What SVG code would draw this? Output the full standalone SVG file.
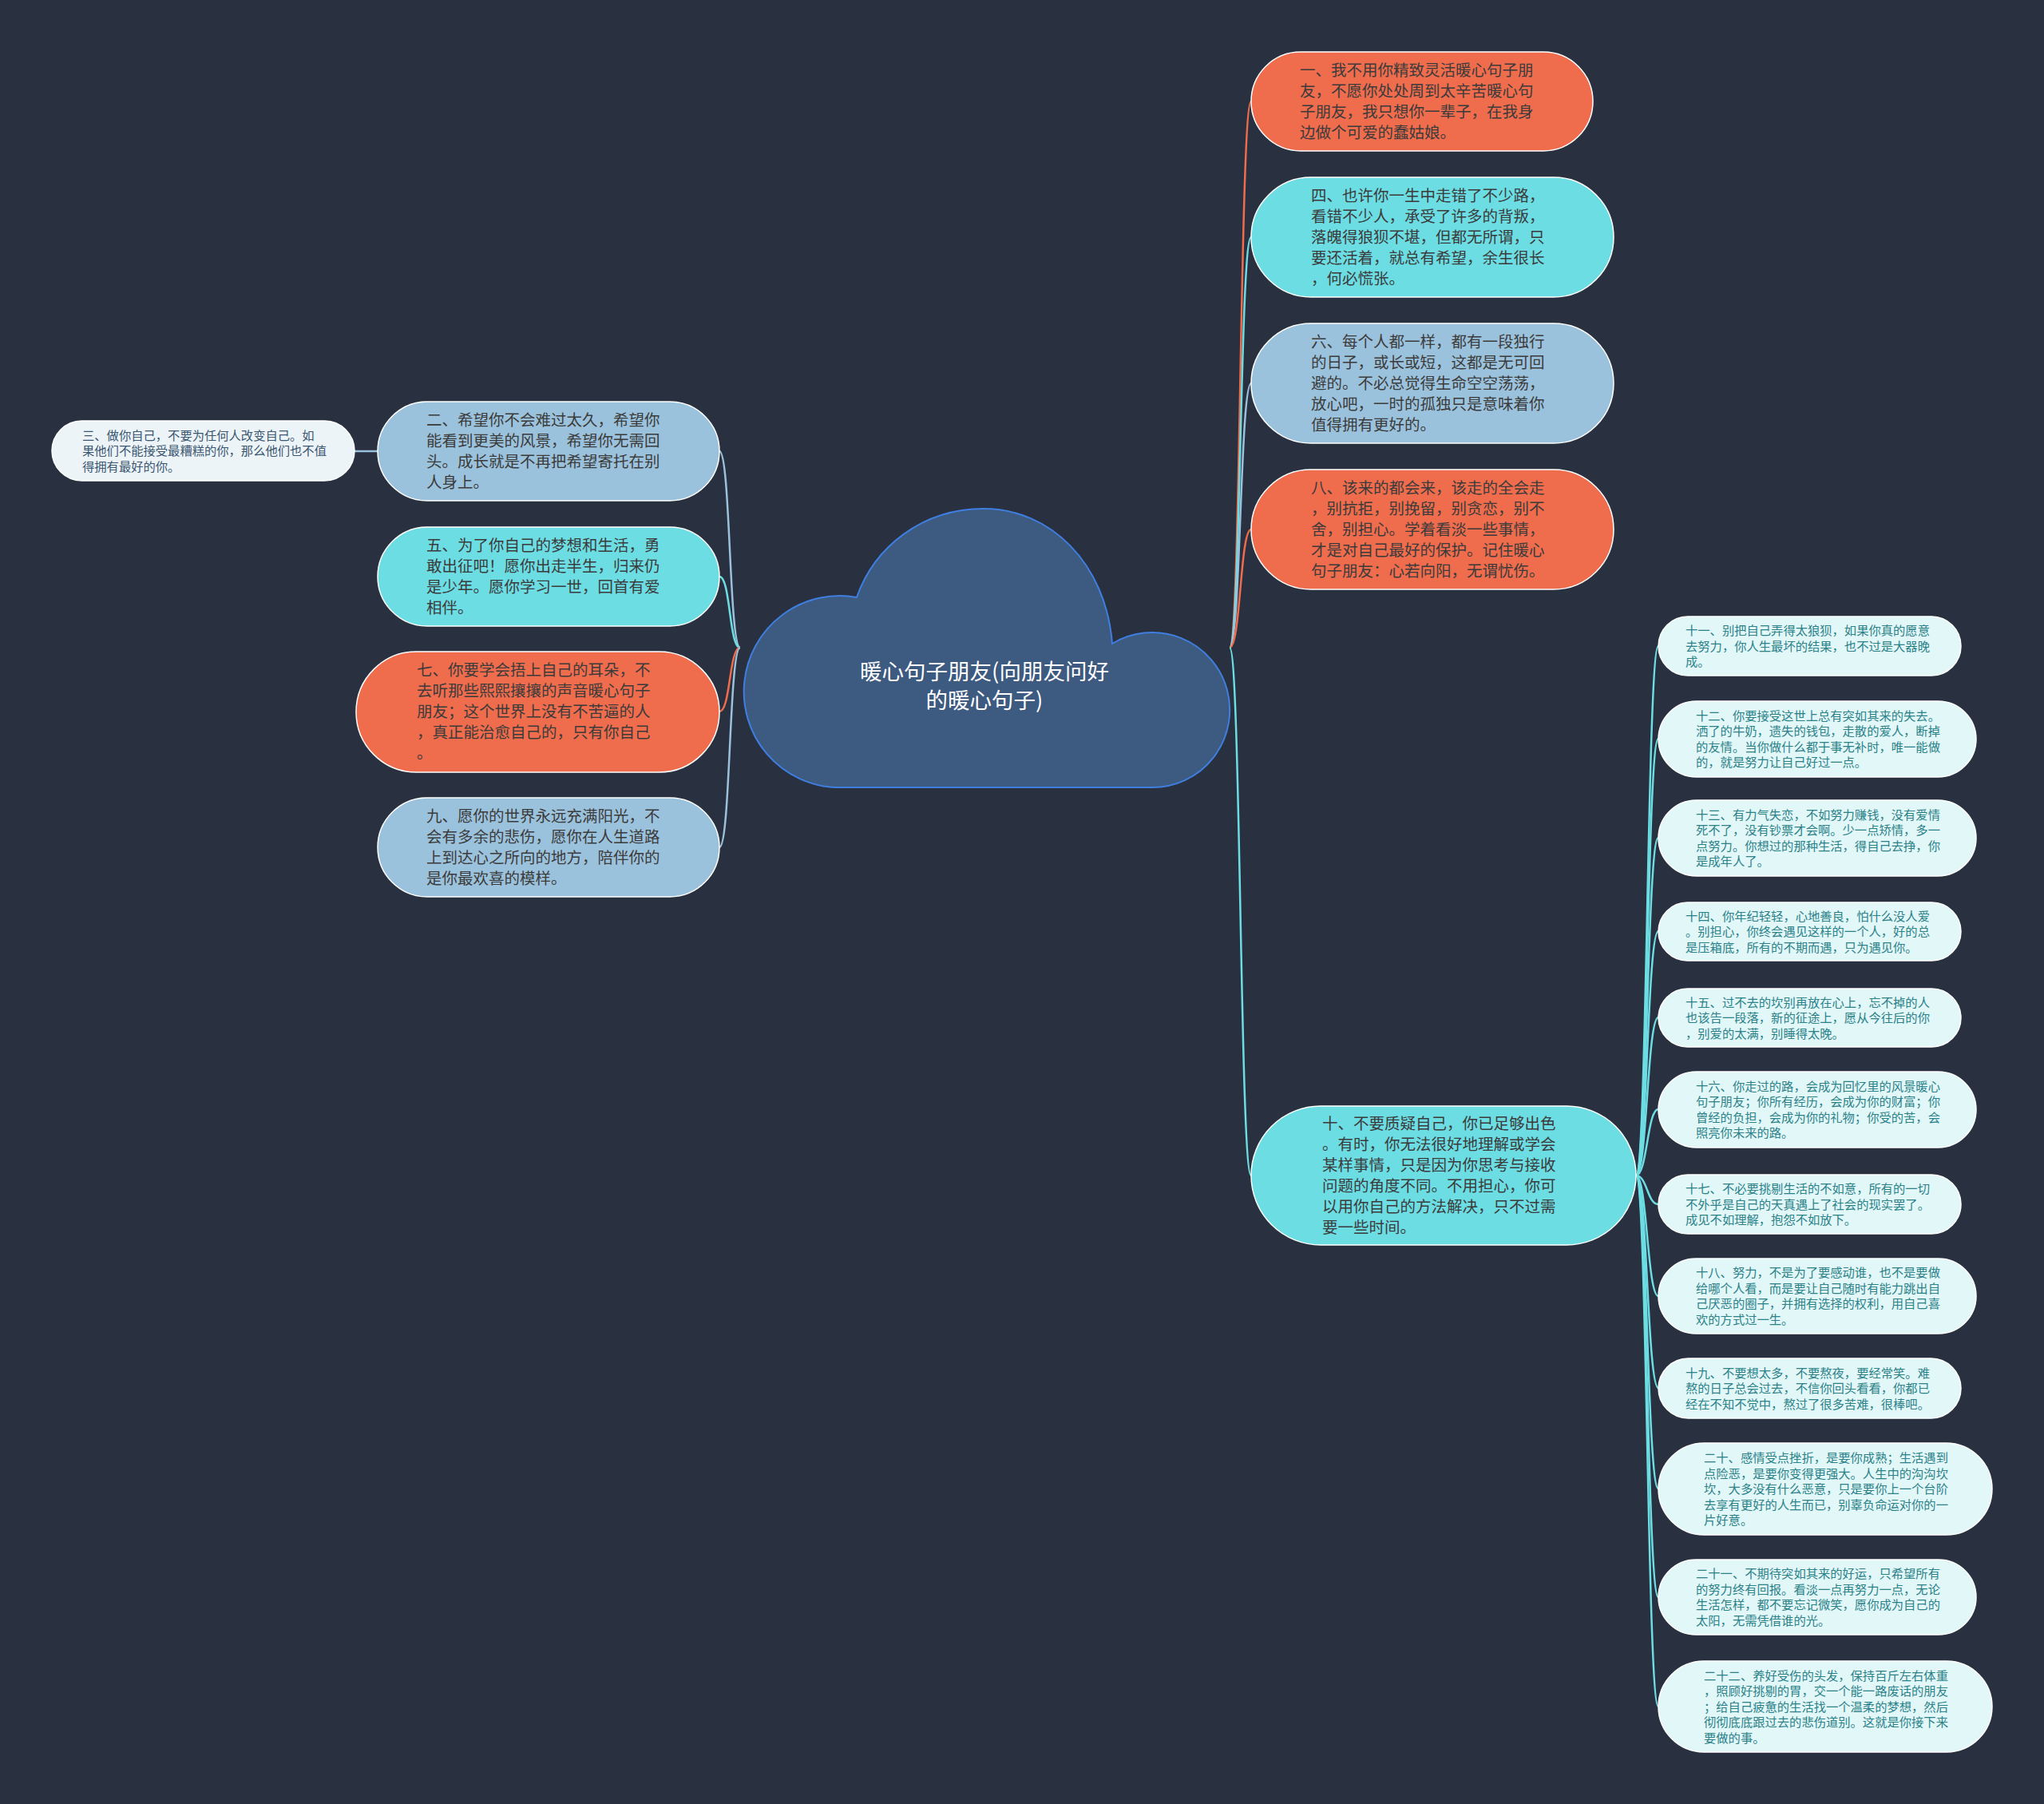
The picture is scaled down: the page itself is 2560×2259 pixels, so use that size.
<svg xmlns="http://www.w3.org/2000/svg" width="2560" height="2259" viewBox="0 0 2560 2259">
<style>
text{font-family:"Noto Sans CJK SC","Noto Sans",sans-serif}
.m{font-size:19.5px;fill:#3b3b3b}
.s{font-size:15.3px;fill:#2b8188}
.t3{font-size:15.3px;fill:#3b5670}
.root{font-size:27.5px;fill:#ffffff;text-anchor:middle}
.or{fill:#ef6c4d;stroke:#ffffff;stroke-width:1.5}
.cy{fill:#6cdde3;stroke:#ffffff;stroke-width:1.5}
.lb{fill:#9bc2dc;stroke:#ffffff;stroke-width:1.5}
.sm{fill:#e1f7f8;stroke:#ffffff;stroke-width:1.5}
.w3{fill:#ecf4f8;stroke:#ffffff;stroke-width:1.5}
.c{fill:none;stroke-width:2.5}
.co{stroke:#ef6c4d}.cc{stroke:#6cdde3}.cl{stroke:#9bc2dc}
</style>
<rect x="0" y="0" width="2560" height="2259" fill="#29303f"/>
<g id="connectors">
<path class="c co" d="M1540 811 C1554 811,1553 127,1567 127"/>
<path class="c cc" d="M1540 811 C1554 811,1553 297,1567 297"/>
<path class="c cl" d="M1540 811 C1554 811,1553 480,1567 480"/>
<path class="c co" d="M1540 811 C1554 811,1553 663,1567 663"/>
<path class="c cc" d="M1540 811 C1554 811,1553 1472,1567 1472"/>
<path class="c cl" d="M927 811 C913 811,915 565,901 565"/>
<path class="c cc" d="M927 811 C913 811,915 722,901 722"/>
<path class="c co" d="M927 811 C913 811,915 891,901 891"/>
<path class="c cl" d="M927 811 C913 811,915 1061,901 1061"/>
<path class="c cl" d="M473 565 L444 565"/>
<path class="c cc" d="M2049 1472 C2063 1472,2063 809,2077 809"/>
<path class="c cc" d="M2049 1472 C2063 1472,2063 925,2077 925"/>
<path class="c cc" d="M2049 1472 C2063 1472,2063 1049,2077 1049"/>
<path class="c cc" d="M2049 1472 C2063 1472,2063 1166,2077 1166"/>
<path class="c cc" d="M2049 1472 C2063 1472,2063 1274,2077 1274"/>
<path class="c cc" d="M2049 1472 C2063 1472,2063 1389,2077 1389"/>
<path class="c cc" d="M2049 1472 C2063 1472,2063 1508,2077 1508"/>
<path class="c cc" d="M2049 1472 C2063 1472,2063 1623,2077 1623"/>
<path class="c cc" d="M2049 1472 C2063 1472,2063 1738,2077 1738"/>
<path class="c cc" d="M2049 1472 C2063 1472,2063 1864,2077 1864"/>
<path class="c cc" d="M2049 1472 C2063 1472,2063 2000,2077 2000"/>
<path class="c cc" d="M2049 1472 C2063 1472,2063 2137,2077 2137"/>
</g>
<g id="root">
<path d="M1047 986 A120 120 0 1 1 1073 748 C1095 685,1155 637,1232 637 C1315 637,1385 705,1393 806 A97 97 0 1 1 1443 986 Z" fill="#3d5a80" stroke="#3f7fe0" stroke-width="2"/>
<text class="root"><tspan x="1233" y="851">暖心句子朋友(向朋友问好</tspan><tspan x="1233" y="887">的暖心句子)</tspan></text>
</g>
<g id="n1">
<rect class="or" x="1567" y="65" width="428" height="124" rx="62"/>
<text class="m"><tspan x="1628" y="95">一、我不用你精致灵活暖心句子朋</tspan><tspan x="1628" y="121">友，不愿你处处周到太辛苦暖心句</tspan><tspan x="1628" y="147">子朋友，我只想你一辈子，在我身</tspan><tspan x="1628" y="173">边做个可爱的蠢姑娘。</tspan></text>
</g>
<g id="n4">
<rect class="cy" x="1567" y="222" width="454" height="150" rx="75"/>
<text class="m"><tspan x="1642" y="252">四、也许你一生中走错了不少路，</tspan><tspan x="1642" y="278">看错不少人，承受了许多的背叛，</tspan><tspan x="1642" y="304">落魄得狼狈不堪，但都无所谓，只</tspan><tspan x="1642" y="330">要还活着，就总有希望，余生很长</tspan><tspan x="1642" y="356">，何必慌张。</tspan></text>
</g>
<g id="n6">
<rect class="lb" x="1567" y="405" width="454" height="150" rx="75"/>
<text class="m"><tspan x="1642" y="435">六、每个人都一样，都有一段独行</tspan><tspan x="1642" y="461">的日子，或长或短，这都是无可回</tspan><tspan x="1642" y="487">避的。不必总觉得生命空空荡荡，</tspan><tspan x="1642" y="513">放心吧，一时的孤独只是意味着你</tspan><tspan x="1642" y="539">值得拥有更好的。</tspan></text>
</g>
<g id="n8">
<rect class="or" x="1567" y="588" width="454" height="150" rx="75"/>
<text class="m"><tspan x="1642" y="618">八、该来的都会来，该走的全会走</tspan><tspan x="1642" y="644">，别抗拒，别挽留，别贪恋，别不</tspan><tspan x="1642" y="670">舍，别担心。学着看淡一些事情，</tspan><tspan x="1642" y="696">才是对自己最好的保护。记住暖心</tspan><tspan x="1642" y="722">句子朋友：心若向阳，无谓忧伤。</tspan></text>
</g>
<g id="n10">
<rect class="cy" x="1567" y="1385" width="482" height="174" rx="87"/>
<text class="m"><tspan x="1656" y="1414">十、不要质疑自己，你已足够出色</tspan><tspan x="1656" y="1440">。有时，你无法很好地理解或学会</tspan><tspan x="1656" y="1466">某样事情，只是因为你思考与接收</tspan><tspan x="1656" y="1492">问题的角度不同。不用担心，你可</tspan><tspan x="1656" y="1518">以用你自己的方法解决，只不过需</tspan><tspan x="1656" y="1544">要一些时间。</tspan></text>
</g>
<g id="n2">
<rect class="lb" x="473" y="503" width="428" height="124" rx="62"/>
<text class="m"><tspan x="534" y="533">二、希望你不会难过太久，希望你</tspan><tspan x="534" y="559">能看到更美的风景，希望你无需回</tspan><tspan x="534" y="585">头。成长就是不再把希望寄托在别</tspan><tspan x="534" y="611">人身上。</tspan></text>
</g>
<g id="n3">
<rect class="w3" x="65" y="527" width="379" height="75" rx="37.5"/>
<text class="t3"><tspan x="103" y="550.5">三、做你自己，不要为任何人改变自己。如</tspan><tspan x="103" y="570">果他们不能接受最糟糕的你，那么他们也不值</tspan><tspan x="103" y="589.5">得拥有最好的你。</tspan></text>
</g>
<g id="n5">
<rect class="cy" x="473" y="660" width="428" height="124" rx="62"/>
<text class="m"><tspan x="534" y="690">五、为了你自己的梦想和生活，勇</tspan><tspan x="534" y="716">敢出征吧！愿你出走半生，归来仍</tspan><tspan x="534" y="742">是少年。愿你学习一世，回首有爱</tspan><tspan x="534" y="768">相伴。</tspan></text>
</g>
<g id="n7">
<rect class="or" x="446" y="816" width="455" height="151" rx="75.5"/>
<text class="m"><tspan x="522" y="846">七、你要学会捂上自己的耳朵，不</tspan><tspan x="522" y="872">去听那些熙熙攘攘的声音暖心句子</tspan><tspan x="522" y="898">朋友；这个世界上没有不苦逼的人</tspan><tspan x="522" y="924">，真正能治愈自己的，只有你自己</tspan><tspan x="522" y="950">。</tspan></text>
</g>
<g id="n9">
<rect class="lb" x="473" y="999" width="428" height="124" rx="62"/>
<text class="m"><tspan x="534" y="1029">九、愿你的世界永远充满阳光，不</tspan><tspan x="534" y="1055">会有多余的悲伤，愿你在人生道路</tspan><tspan x="534" y="1081">上到达心之所向的地方，陪伴你的</tspan><tspan x="534" y="1107">是你最欢喜的模样。</tspan></text>
</g>
<g id="n11">
<rect class="sm" x="2077" y="772" width="379" height="74" rx="37"/>
<text class="s"><tspan x="2111" y="795">十一、别把自己弄得太狼狈，如果你真的愿意</tspan><tspan x="2111" y="814.5">去努力，你人生最坏的结果，也不过是大器晚</tspan><tspan x="2111" y="834">成。</tspan></text>
</g>
<g id="n12">
<rect class="sm" x="2077" y="878" width="398" height="95" rx="47.5"/>
<text class="s"><tspan x="2124" y="901.75">十二、你要接受这世上总有突如其来的失去。</tspan><tspan x="2124" y="921.25">洒了的牛奶，遗失的钱包，走散的爱人，断掉</tspan><tspan x="2124" y="940.75">的友情。当你做什么都于事无补时，唯一能做</tspan><tspan x="2124" y="960.25">的，就是努力让自己好过一点。</tspan></text>
</g>
<g id="n13">
<rect class="sm" x="2077" y="1002" width="398" height="95" rx="47.5"/>
<text class="s"><tspan x="2124" y="1025.75">十三、有力气失恋，不如努力赚钱，没有爱情</tspan><tspan x="2124" y="1045.25">死不了，没有钞票才会啊。少一点矫情，多一</tspan><tspan x="2124" y="1064.75">点努力。你想过的那种生活，得自己去挣，你</tspan><tspan x="2124" y="1084.25">是成年人了。</tspan></text>
</g>
<g id="n14">
<rect class="sm" x="2077" y="1130" width="379" height="73" rx="36.5"/>
<text class="s"><tspan x="2111" y="1152.5">十四、你年纪轻轻，心地善良，怕什么没人爱</tspan><tspan x="2111" y="1172">。别担心，你终会遇见这样的一个人，好的总</tspan><tspan x="2111" y="1191.5">是压箱底，所有的不期而遇，只为遇见你。</tspan></text>
</g>
<g id="n15">
<rect class="sm" x="2077" y="1238" width="379" height="73" rx="36.5"/>
<text class="s"><tspan x="2111" y="1260.5">十五、过不去的坎别再放在心上，忘不掉的人</tspan><tspan x="2111" y="1280">也该告一段落，新的征途上，愿从今往后的你</tspan><tspan x="2111" y="1299.5">，别爱的太满，别睡得太晚。</tspan></text>
</g>
<g id="n16">
<rect class="sm" x="2077" y="1342" width="398" height="95" rx="47.5"/>
<text class="s"><tspan x="2124" y="1365.75">十六、你走过的路，会成为回忆里的风景暖心</tspan><tspan x="2124" y="1385.25">句子朋友；你所有经历，会成为你的财富；你</tspan><tspan x="2124" y="1404.75">曾经的负担，会成为你的礼物；你受的苦，会</tspan><tspan x="2124" y="1424.25">照亮你未来的路。</tspan></text>
</g>
<g id="n17">
<rect class="sm" x="2077" y="1471" width="379" height="74" rx="37"/>
<text class="s"><tspan x="2111" y="1494">十七、不必要挑剔生活的不如意，所有的一切</tspan><tspan x="2111" y="1513.5">不外乎是自己的天真遇上了社会的现实罢了。</tspan><tspan x="2111" y="1533">成见不如理解，抱怨不如放下。</tspan></text>
</g>
<g id="n18">
<rect class="sm" x="2077" y="1576" width="398" height="94" rx="47"/>
<text class="s"><tspan x="2124" y="1599.25">十八、努力，不是为了要感动谁，也不是要做</tspan><tspan x="2124" y="1618.75">给哪个人看，而是要让自己随时有能力跳出自</tspan><tspan x="2124" y="1638.25">己厌恶的圈子，并拥有选择的权利，用自己喜</tspan><tspan x="2124" y="1657.75">欢的方式过一生。</tspan></text>
</g>
<g id="n19">
<rect class="sm" x="2077" y="1701" width="379" height="75" rx="37.5"/>
<text class="s"><tspan x="2111" y="1724.5">十九、不要想太多，不要熬夜，要经常笑。难</tspan><tspan x="2111" y="1744">熬的日子总会过去，不信你回头看看，你都已</tspan><tspan x="2111" y="1763.5">经在不知不觉中，熬过了很多苦难，很棒吧。</tspan></text>
</g>
<g id="n20">
<rect class="sm" x="2077" y="1807" width="418" height="115" rx="57.5"/>
<text class="s"><tspan x="2134" y="1831">二十、感情受点挫折，是要你成熟；生活遇到</tspan><tspan x="2134" y="1850.5">点险恶，是要你变得更强大。人生中的沟沟坎</tspan><tspan x="2134" y="1870">坎，大多没有什么恶意，只是要你上一个台阶</tspan><tspan x="2134" y="1889.5">去享有更好的人生而已，别辜负命运对你的一</tspan><tspan x="2134" y="1909">片好意。</tspan></text>
</g>
<g id="n21">
<rect class="sm" x="2077" y="1953" width="398" height="94" rx="47"/>
<text class="s"><tspan x="2124" y="1976.25">二十一、不期待突如其来的好运，只希望所有</tspan><tspan x="2124" y="1995.75">的努力终有回报。看淡一点再努力一点，无论</tspan><tspan x="2124" y="2015.25">生活怎样，都不要忘记微笑，愿你成为自己的</tspan><tspan x="2124" y="2034.75">太阳，无需凭借谁的光。</tspan></text>
</g>
<g id="n22">
<rect class="sm" x="2077" y="2080" width="418" height="114" rx="57"/>
<text class="s"><tspan x="2134" y="2103.5">二十二、养好受伤的头发，保持百斤左右体重</tspan><tspan x="2134" y="2123">，照顾好挑剔的胃，交一个能一路废话的朋友</tspan><tspan x="2134" y="2142.5">；给自己疲惫的生活找一个温柔的梦想，然后</tspan><tspan x="2134" y="2162">彻彻底底跟过去的悲伤道别。这就是你接下来</tspan><tspan x="2134" y="2181.5">要做的事。</tspan></text>
</g>
</svg>
